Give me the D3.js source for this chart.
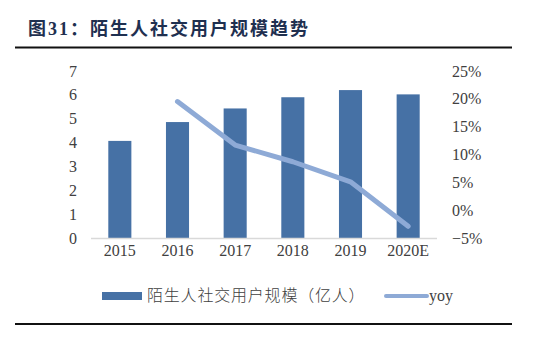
<!DOCTYPE html>
<html><head><meta charset="utf-8">
<script src="https://cdn.jsdelivr.net/npm/d3@7"></script>
<style>body{margin:0;background:#fff;}svg{display:block;}</style>
</head><body>
<script>
const categories = ["2015","2016","2017","2018","2019","2020E"];
const users = [4.07, 4.86, 5.43, 5.90, 6.20, 6.02];
const yoy = [null, 0.195, 0.117, 0.087, 0.051, -0.029];
const leftTicks = [0,1,2,3,4,5,6,7];
const rightTicks = [-0.05,0,0.05,0.10,0.15,0.20,0.25];
const title = "图31：陌生人社交用户规模趋势";
const seriesNames = ["陌生人社交用户规模（亿人）","yoy"];

const W=547,H=338;
const svg=d3.select("body").append("svg").attr("width",W).attr("height",H);
const serif="'Liberation Serif','Times New Roman',serif";
const cjk="'Noto Sans CJK SC','Noto Sans',sans-serif";

// title
svg.append("text").attr("x",28).attr("y",35).attr("font-family","'Liberation Serif',"+cjk)
  .attr("font-size",18).attr("letter-spacing",2).attr("font-weight","bold").attr("fill","#1f3050").text(title);
svg.append("line").attr("x1",15).attr("x2",512).attr("y1",47.5).attr("y2",47.5).attr("stroke","#111").attr("stroke-width",2);
svg.append("line").attr("x1",15).attr("x2",512).attr("y1",324).attr("y2",324).attr("stroke","#111").attr("stroke-width",2);

const x=d3.scaleBand().domain(categories).range([91,437]).paddingInner(0.6).paddingOuter(0.3);
const yL=d3.scaleLinear().domain([0,7]).range([238,71]);
const yR=d3.scaleLinear().domain([-0.05,0.25]).range([238,71]);

// left axis
const gL=svg.append("g").attr("transform","translate(80,0)")
  .call(d3.axisLeft(yL).tickValues(leftTicks).tickSize(0).tickPadding(3).tickFormat(d3.format("d")));
gL.select(".domain").remove();
gL.selectAll("text").attr("font-family",serif).attr("font-size",16).attr("fill","#404040");

const gR=svg.append("g").attr("transform","translate(449,0)")
  .call(d3.axisRight(yR).tickValues(rightTicks).tickSize(0).tickPadding(3).tickFormat(d3.format(".0%")));
gR.select(".domain").remove();
gR.selectAll("text").attr("font-family",serif).attr("font-size",16).attr("fill","#404040");

// bars
svg.append("g").selectAll("rect").data(users).join("rect")
  .attr("x",(d,i)=>x(categories[i])).attr("width",x.bandwidth())
  .attr("y",d=>yL(d)).attr("height",d=>yL(0)-yL(d)).attr("fill","#4671a5");

// baseline
svg.append("line").attr("x1",91).attr("x2",437).attr("y1",238.5).attr("y2",238.5).attr("stroke","#d9d9d9").attr("stroke-width",1.5);

// x axis labels
const gX=svg.append("g").attr("transform","translate(0,239)")
  .call(d3.axisBottom(x).tickSize(0).tickPadding(6));
gX.select(".domain").remove();
gX.selectAll("text").attr("font-family",serif).attr("font-size",16).attr("fill","#404040");

// yoy line
const pts=yoy.map((v,i)=>[categories[i],v]).filter(p=>p[1]!==null);
svg.append("path").datum(pts)
  .attr("d",d3.line().x(p=>x(p[0])+x.bandwidth()/2).y(p=>yR(p[1])))
  .attr("fill","none").attr("stroke","#8eaad6").attr("stroke-width",5).attr("stroke-linecap","round").attr("stroke-linejoin","round");

// legend
svg.append("rect").attr("x",102).attr("y",292).attr("width",40).attr("height",8).attr("fill","#4671a5");
svg.append("text").attr("x",147).attr("y",301).attr("font-family",cjk).attr("font-size",16).attr("letter-spacing",0.8).attr("font-weight",300).attr("fill","#404040").text(seriesNames[0]);
svg.append("line").attr("x1",386).attr("x2",427).attr("y1",296).attr("y2",296).attr("stroke","#8eaad6").attr("stroke-width",4).attr("stroke-linecap","round");
svg.append("text").attr("x",429).attr("y",301).attr("font-family",serif).attr("font-size",16).attr("fill","#404040").text(seriesNames[1]);
</script>
</body></html>
